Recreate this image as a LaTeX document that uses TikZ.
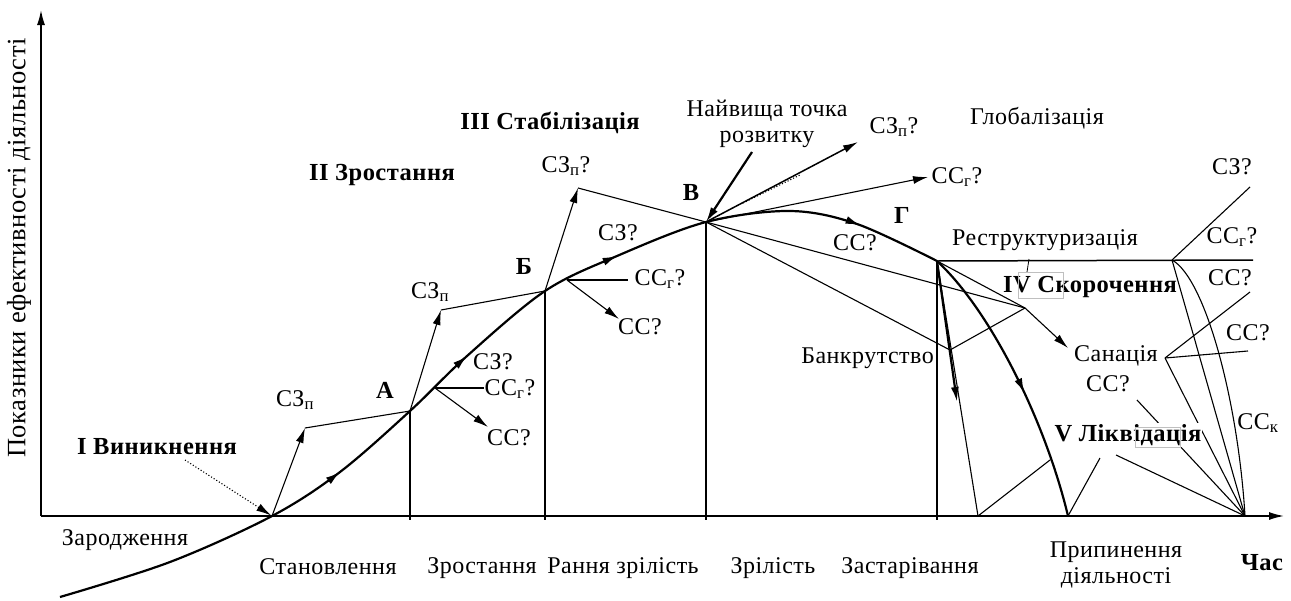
\documentclass[tikz,border=0pt]{standalone}
\usepackage{fontspec}
\setmainfont[LetterSpace=2]{Liberation Serif}
\usetikzlibrary{arrows.meta,decorations.markings}
\begin{document}
\begin{tikzpicture}[x=1pt,y=-1pt,
  txt/.style={font=\fontsize{24}{26}\selectfont, inner sep=0pt},
  btxt/.style={font=\fontsize{24.5}{26}\selectfont\bfseries, inner sep=0pt},
  ln/.style={line width=1.1pt},
  mid/.style={line width=1.5pt},
  thk/.style={line width=2.2pt},
  tip/.style={-{Latex[length=15pt,width=8pt]}},
  gbox/.style={draw=black!25, line width=0.6pt},
  midarrow/.style={postaction={decorate}, decoration={markings, mark=at position #1 with {\arrow{Latex[length=15pt,width=8pt]}}}}
]
\useasboundingbox (0,0) rectangle (1291,600);

% ---------- coordinates ----------
\coordinate (Org) at (41,516);
\coordinate (Ytop) at (41,10);
\coordinate (Xend) at (1284,516);
\coordinate (O) at (272,516);
\coordinate (A) at (410,411);
\coordinate (B) at (545,291);
\coordinate (V) at (706,222);
\coordinate (R) at (937,261);
\coordinate (Ax) at (410,520);
\coordinate (Bx) at (545,520);
\coordinate (Vx) at (706,520);
\coordinate (Rx) at (937,520);
\coordinate (S1) at (305,428);
\coordinate (S2) at (441,310);
\coordinate (S3) at (578,188);
\coordinate (Ab) at (435,388);
\coordinate (Abr) at (484,388);
\coordinate (Abd) at (488,427);
\coordinate (Bb) at (567,280);
\coordinate (Bbr) at (628,280);
\coordinate (Bbd) at (619,319);
\coordinate (Nt) at (752,152);
\coordinate (Vsz) at (858,142);
\coordinate (Vcc) at (928,177);
\coordinate (D1) at (743,203);
\coordinate (D2) at (800,175);
\coordinate (K) at (1025,308);
\coordinate (Bk) at (950,350);
\coordinate (Sn) at (1068,348);
\coordinate (Q) at (1172,260);
\coordinate (Rend) at (1253,260);
\coordinate (T1) at (1029,259);
\coordinate (T2) at (1027,272);
\coordinate (L1) at (978,516);
\coordinate (Bt) at (957,402);
\coordinate (L2) at (1068,516);
\coordinate (Cv) at (1050,460);
\coordinate (Qsz) at (1250,187);
\coordinate (E) at (1245,516);
\coordinate (S) at (1165,358);
\coordinate (Sr) at (1248,351);
\coordinate (Su) at (1250,292);
\coordinate (Cl) at (1137,400);
\coordinate (Lq1) at (1100,458);
\coordinate (Lq2) at (1116,455);
\coordinate (Dv) at (185,460);

% ---------- axes ----------
\draw[mid, tip] (Org) -- (Ytop);
\draw[mid, tip] (Org) -- (Xend);
\draw[ln] (A) -- (Ax);
\draw[ln] (B) -- (Bx);
\draw[ln] (V) -- (Vx);
\draw[ln] (R) -- (Rx);

% ---------- main curve ----------
\draw[thk, postaction={decorate}, decoration={markings,
    mark=at position 309pt with {\arrow{Latex[length=15pt,width=8pt]}},
    mark=at position 481pt with {\arrow{Latex[length=15pt,width=8pt]}},
    mark=at position 663pt with {\arrow{Latex[length=15pt,width=8pt]}},
    mark=at position 915pt with {\arrow{Latex[length=15pt,width=8pt]}}}]
  plot[smooth, tension=0.55] coordinates {(60,597) (170,562) (272,516) (340,472) (410,411) (467,356) (545,291) (617,256) (706,222) (790,211) (857,224) (937,261)};

% ---------- growth strategies ----------
\draw[ln, dotted, tip, shorten >=1pt] (Dv) -- (O);
\draw[ln, tip] (O) -- (S1);
\draw[ln] (S1) -- (A);
\draw[ln, tip] (A) -- (S2);
\draw[ln] (S2) -- (B);
\draw[ln, tip] (B) -- (S3);
\draw[ln] (S3) -- (V);
\draw[ln] (Ab) -- (Abr);
\draw[ln, tip] (Ab) -- (Abd);
\draw[ln] (Bb) -- (Bbr);
\draw[ln, tip] (Bb) -- (Bbd);

% ---------- peak ----------
\draw[thk, tip] (Nt) -- (V);
\draw[mid, tip] (V) -- (Vsz);
\draw[ln, tip] (V) -- (Vcc);
\draw[ln, dotted] (D1) -- (D2);

% ---------- decline ----------
\draw[ln] (V) -- (K);
\draw[ln] (V) -- (Bk);
\draw[ln] (R) -- (K);
\draw[ln] (K) -- (Bk);
\draw[ln, tip] (K) -- (Sn);
\draw[mid] (R) -- (Rend);
\draw[line width=0.8pt] (T1) -- (T2);
\draw[ln] (R) -- (L1);
\draw[thk, tip] (R) -- (Bt);
\draw[thk, midarrow=0.55] (R) .. controls (990,310) and (1045,420) .. (L2);
\draw[ln] (L1) -- (Cv);

% ---------- right fan ----------
\draw[ln] (Q) -- (Qsz);
\draw[ln] (Q) -- (E);
\draw[ln] (Q) .. controls (1205,278) and (1238,400) .. (E);
\draw[ln] (S) -- (Sr);
\draw[ln] (S) -- (Su);
\draw[ln] (S) -- (E);
\draw[ln] (Cl) -- (E);
\draw[ln] (Lq1) -- (L2);
\draw[ln] (Lq2) -- (E);

% ---------- labels ----------
\node[font=\fontsize{26.5}{28}\selectfont, inner sep=0pt, rotate=90] (ylab) at (19,248) {Показники ефективності діяльності};
\node[btxt] (st1) at (157,447) {I Виникнення};
\node[btxt] (st2) at (382,175) {II Зростання};
\node[btxt] (st3) at (550,123) {III Стабілізація};
\node[btxt] (st4) at (1090,287) {IV Скорочення};
\draw[gbox] (1018,272) rectangle (1063,298);
\node[btxt, fill=white, inner sep=1pt] (st5) at (1128,435) {V Ліквідація};
\draw[gbox] (1135,427) rectangle (1180,447);

\node[btxt] (la) at (385,390) {А};
\node[btxt] (lb) at (524,266) {Б};
\node[btxt] (lv) at (691,193) {В};
\node[btxt] (lg) at (902,215) {Г};

\node[txt] (c1) at (295,400) {СЗ\textsubscript{п}};
\node[txt] (c2) at (430,292) {СЗ\textsubscript{п}};
\node[txt] (c3) at (566,166) {СЗ\textsubscript{п}?};
\node[txt] (c4) at (493,362) {СЗ?};
\node[txt] (c5) at (510,389) {СС\textsubscript{г}?};
\node[txt] (c6) at (509,438) {СС?};
\node[txt] (c7) at (618,233) {СЗ?};
\node[txt] (c8) at (660,279) {СС\textsubscript{г}?};
\node[txt] (c9) at (640,327) {СС?};

\node[txt, align=center] (peak) at (767,124) {Найвища точка\\розвитку};
\node[txt] (c10) at (894,127) {СЗ\textsubscript{п}?};
\node[txt] (c11) at (957,177) {СС\textsubscript{г}?};
\node[txt] (glob) at (1037,118) {Глобалізація};
\node[txt] (c12) at (855,243) {СС?};
\node[txt] (restr) at (1045,240) {Реструктуризація};
\node[txt, anchor=east] (bank) at (934,358) {Банкрутство};
\node[txt] (san) at (1116,356) {Санація};
\node[txt] (c13) at (1108,384) {СС?};

\node[txt] (c14) at (1232,167) {СЗ?};
\node[txt] (c15) at (1232,237) {СС\textsubscript{г}?};
\node[txt] (c16) at (1230,278) {СС?};
\node[txt] (c17) at (1248,333) {СС?};
\node[txt] (c18) at (1258,423) {СС\textsubscript{к}};

\node[txt] (p0) at (125,540) {Зародження};
\node[txt] (p1) at (328,567) {Становлення};
\node[txt] (p2) at (482,568) {Зростання};
\node[txt] (p3) at (623,568) {Рання зрілість};
\node[txt] (p4) at (773,568) {Зрілість};
\node[txt] (p5) at (910,568) {Застарівання};
\node[txt, align=center] (p6) at (1116,565) {Припинення\\діяльності};
\node[btxt] (time) at (1262,563) {Час};
\end{tikzpicture}
\end{document}
